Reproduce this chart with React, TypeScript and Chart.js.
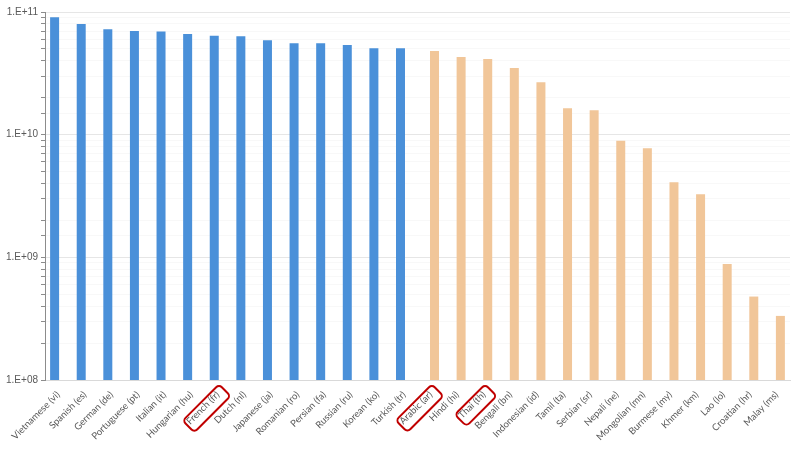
import { useEffect, useRef } from 'react';
import { Chart, registerables } from 'chart.js';

Chart.register(...registerables);

const categories = [
  'Vietnamese (vi)', 'Spanish (es)', 'German (de)', 'Portuguese (pt)', 'Italian (it)',
  'Hungarian (hu)', 'French (fr)', 'Dutch (nl)', 'Japanese (ja)', 'Romanian (ro)',
  'Persian (fa)', 'Russian (ru)', 'Korean (ko)', 'Turkish (tr)',
  'Arabic (ar)', 'Hindi (hi)', 'Thai (th)', 'Bengali (bn)', 'Indonesian (id)',
  'Tamil (ta)', 'Serbian (sr)', 'Nepali (ne)', 'Mongolian (mn)', 'Burmese (my)',
  'Khmer (km)', 'Lao (lo)', 'Croatian (hr)', 'Malay (ms)',
];

const blueValues = [
  9.06e10, 7.98e10, 7.22e10, 7.0e10, 6.92e10, 6.62e10, 6.41e10, 6.34e10,
  5.88e10, 5.56e10, 5.56e10, 5.38e10, 5.06e10, 5.06e10,
];

const orangeValues = [
  4.81e10, 4.30e10, 4.14e10, 3.50e10, 2.67e10, 1.64e10, 1.58e10, 8.93e9,
  7.74e9, 4.09e9, 3.27e9, 8.83e8, 4.79e8, 3.33e8,
];

const highlighted = ['French (fr)', 'Arabic (ar)', 'Thai (th)'];

const yTickValues = [1e8, 1e9, 1e10, 1e11];
const yTickLabels = ['1.E+08', '1.E+09', '1.E+10', '1.E+11'];

const LABEL_FONT = { family: 'Lato', size: 9.5 };

function isDecade(v: number) {
  const l = Math.log10(v);
  return Math.abs(l - Math.round(l)) < 1e-6;
}

const highlightPlugin = {
  id: 'highlightBoxes',
  afterDraw(chart: any) {
    const xs = chart.scales.x;
    const ctx = chart.ctx;
    ctx.save();
    ctx.font = `${LABEL_FONT.size}px ${LABEL_FONT.family}`;
    const lineHeight = LABEL_FONT.size * 1.2;
    const padding = xs.options.ticks.padding;
    highlighted.forEach((name) => {
      const i = categories.indexOf(name);
      if (i < 0) return;
      const x = xs.getPixelForTick(i);
      const y = xs.top + padding;
      const w = ctx.measureText(name).width;
      ctx.save();
      ctx.translate(x, y);
      ctx.rotate(-Math.PI / 4);
      ctx.beginPath();
      const bx = -w - 5;
      const by = -2.5;
      const bw = w + 9;
      const bh = lineHeight + 5;
      (ctx as any).roundRect(bx, by, bw, bh, 4);
      ctx.strokeStyle = '#c00000';
      ctx.lineWidth = 2;
      ctx.stroke();
      ctx.restore();
    });
    ctx.restore();
  },
};

export default function App() {
  const canvasRef = useRef<HTMLCanvasElement | null>(null);

  useEffect(() => {
    document.body.style.margin = '0';
    const canvas = canvasRef.current;
    if (!canvas) return;
    const nb = blueValues.length;
    const blueData = categories.map((_, i) => (i < nb ? blueValues[i] : null));
    const orangeData = categories.map((_, i) => (i >= nb ? orangeValues[i - nb] : null));

    const chart = new Chart(canvas, {
      type: 'bar',
      data: {
        labels: categories,
        datasets: [
          {
            label: 'A',
            data: blueData,
            backgroundColor: '#4a90d9',
            categoryPercentage: 0.556,
            barPercentage: 1.216,
          },
          {
            label: 'B',
            data: orangeData,
            backgroundColor: '#f1c699',
            categoryPercentage: 0.556,
            barPercentage: 1.216,
          },
        ],
      },
      options: {
        responsive: false,
        animation: false,
        layout: { padding: { top: 12, right: 10, left: 0, bottom: 0 } },
        plugins: {
          legend: { display: false },
          tooltip: { enabled: false },
        },
        scales: {
          x: {
            grid: { display: false, drawTicks: false },
            border: { color: '#d9d9d9', width: 1 },
            ticks: {
              color: '#595959',
              font: LABEL_FONT,
              maxRotation: 45,
              minRotation: 45,
              autoSkip: false,
              padding: 9,
            },
            afterFit(scale: any) {
              scale.height = 76;
            },
          },
          y: {
            type: 'logarithmic',
            min: 1e8,
            max: 1e11,
            grid: {
              color: (c: any) => (c.tick && isDecade(c.tick.value) ? '#e6e6e6' : '#f8f8f8'),
              tickColor: '#8c8c8c',
              tickLength: 4,
              drawTicks: true,
            },
            border: { color: '#8c8c8c', width: 1 },
            ticks: {
              color: '#595959',
              font: { family: 'Liberation Sans', size: 10 },
              autoSkip: false,
              padding: 3,
              callback: (v: any) => {
                const idx = yTickValues.findIndex((t) => Math.abs(t - Number(v)) / t < 1e-6);
                return idx >= 0 ? yTickLabels[idx] : '';
              },
            },
            afterFit(scale: any) {
              scale.width = 45;
            },
          },
        },
      },
      plugins: [highlightPlugin],
    });
    return () => chart.destroy();
  }, []);

  return (
    <div style={{ width: 800, height: 456, background: '#fff' }}>
      <canvas ref={canvasRef} width={800} height={456} />
    </div>
  );
}
